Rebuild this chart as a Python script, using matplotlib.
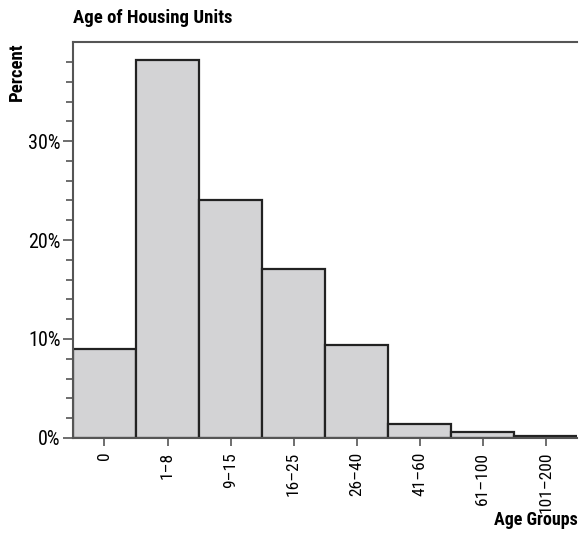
import matplotlib
matplotlib.use('Agg')
import matplotlib.pyplot as plt
from matplotlib import font_manager
import numpy as np
from matplotlib.ticker import FixedLocator, FuncFormatter

age_groups = ['0', '1–8', '9–15', '16–25', '26–40', '41–60', '61–100', '101–200']
percent = [9.0, 38.2, 24.0, 17.1, 9.4, 1.4, 0.6, 0.2]

# the reference uses a condensed face; take one if the system has it
names = {f.name for f in font_manager.fontManager.ttflist}
narrow = [n for n in ['Liberation Sans Narrow', 'Roboto Condensed', 'Open Sans Condensed',
                      'DejaVu Sans Condensed', 'Noto Sans Condensed'] if n in names]
plt.rcParams['font.family'] = narrow + ['DejaVu Sans']
plt.rcParams['font.stretch'] = 'condensed'

fig = plt.figure(figsize=(5.79, 5.34), dpi=100)
ax = fig.add_axes([0.126, 0.18, 0.871, 0.741])

x = np.arange(len(age_groups))
ax.bar(x, percent, width=1.0, color='#d3d3d5', edgecolor='#222222', linewidth=1.6)

ax.set_xlim(-0.5, len(age_groups) - 0.5)
ax.set_ylim(0, 40)
ax.set_xticks(x)
ax.set_xticklabels(age_groups, rotation=90, fontsize=12.5)
ax.yaxis.set_major_locator(FixedLocator([0, 10, 20, 30]))
ax.yaxis.set_minor_locator(FixedLocator([v for v in range(2, 40, 2) if v % 10]))
ax.yaxis.set_major_formatter(FuncFormatter(lambda v, p: f'{v:.0f}%'))
ax.tick_params(axis='y', which='major', length=7, width=1.2, color='#555555', labelsize=14.5, pad=2)
ax.tick_params(axis='y', which='minor', length=5, width=1.2, color='#555555')
ax.tick_params(axis='x', length=6, width=1.2, color='#555555', pad=4)

for side in ['left', 'bottom', 'top']:
    ax.spines[side].set_color('#555555')
    ax.spines[side].set_linewidth(1.5)
ax.spines['right'].set_visible(False)

fig.text(0.126, 0.966, 'Age of Housing Units', fontsize=13.5, fontweight='bold', ha='left', va='center')
fig.text(0.03, 0.921, 'Percent', fontsize=13.5, fontweight='bold', rotation=90, ha='center', va='top')
fig.text(0.998, 0.026, 'Age Groups', fontsize=13, fontweight='bold', ha='right', va='center')

fig.savefig('out.png', dpi=100)
